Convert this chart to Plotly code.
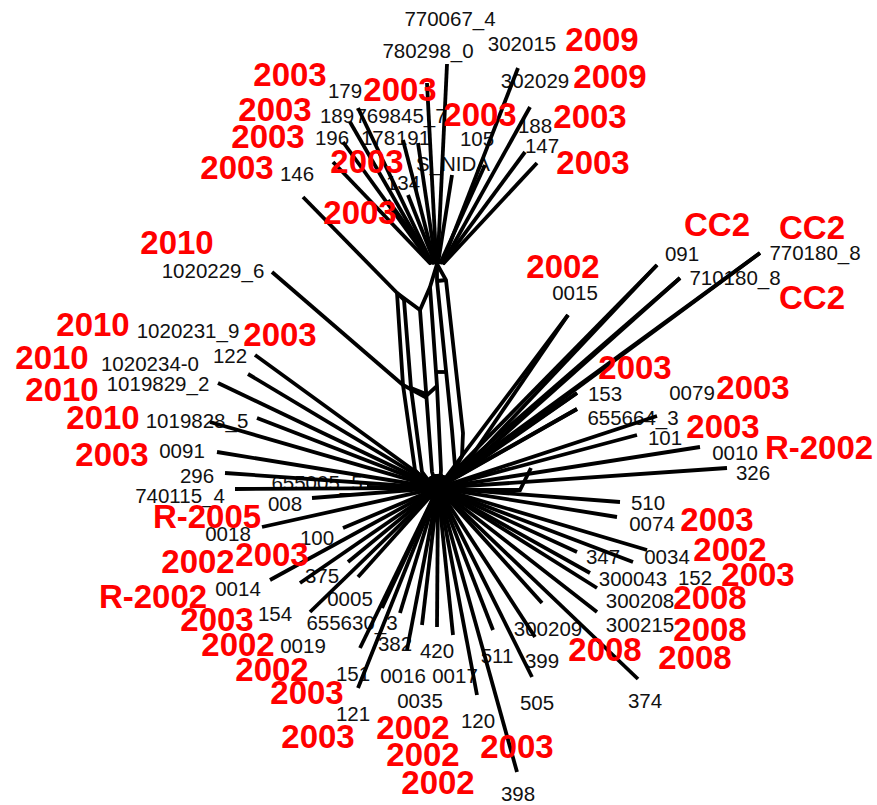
import plotly.graph_objects as go

# ---------------- data ----------------
# black sample labels (centre positions in plot units)
black_labels = ["770067_4","780298_0","302015","302029","179","189","769845_7","196","178","191",
                "105","188","147","S_NIDA","134","146","1020229_6","1020231_9","122","1020234-0",
                "1019829_2","1019828_5","0091","296","655005_5","740115_4","008","0018","100","0014",
                "375","0005","154","655630_3","0019","382","420","151","0016","0017",
                "0035","121","120","398","505","399","511","300209","374","300215",
                "300208","300043","152","347","0034","0074","510","326","0010","101",
                "655664_3","153","0079","0015","091","710180_8","770180_8"]
black_x = [450,428,522,535,345,337,401,332,378,413,
           477,535,542,453,403,297,213,188,230,150,
           158,197,182,197,317,180,285,228,317,238,
           322,350,275,352,303,395,437,353,403,455,
           420,353,478,518,537,542,497,548,645,640,
           640,633,695,603,667,652,648,753,735,665,
           633,605,692,575,682,735,815]
black_y = [18,50,43,80,90,115,115,137,137,137,
           138,125,145,163,182,173,270,330,355,363,
           383,420,450,475,482,495,503,533,537,588,
           575,598,613,622,645,643,650,673,675,675,
           700,713,720,793,702,660,655,628,700,624,
           600,578,577,556,556,523,502,472,452,437,
           417,393,392,292,253,277,252]

# red year / group labels
red_labels = ["2009","2009","2003","2003","2003","2003","2003","2003","2003","2003","2003","2003",
              "2010","2010","2003","2010","2010","2010","2003",
              "R-2005","2002","2003","R-2002","2003","2002","2002","2003","2003",
              "2002","2002","2002","2003",
              "2008","2008","2008","2008","2003","2002","2003",
              "R-2002","2003","2003","2003","2002","CC2","CC2","CC2"]
red_x = [602,610,290,400,275,480,268,590,367,593,237,360,
         177,93,280,52,62,103,112,
         207,198,272,153,217,238,272,307,318,
         413,423,438,517,
         605,695,710,710,758,730,717,
         819,723,753,635,563,717,812,812]
red_y = [40,77,75,90,110,115,137,117,162,163,168,213,
         243,325,335,358,390,418,455,
         517,562,555,597,620,645,670,693,737,
         728,755,783,747,
         650,658,630,598,575,550,520,
         448,427,388,368,267,225,228,298]

# upper cluster: hub and leaf tips
top_hub = (437, 264)
top_tip_x = [447,427,518,530,525,537,350,343,403,418,408,452,485,358,333,388]
top_tip_y = [64,83,68,107,152,163,122,142,140,143,195,175,165,108,162,200]

# lower cluster: hub and leaf tips
bot_hub = (438, 488)
bot_tip_x = [255,248,218,257,210,217,225,235,367,312,262,343,348,358,270,300,310,382,360,358,
             400,407,422,437,453,477,493,517,532,535,542,638,597,597,590,633,577,647,617,620,
             727,700,637,657,577,577,568,657,680,760]
bot_tip_y = [355,374,383,418,422,452,473,489,487,498,527,528,562,577,580,583,612,608,648,688,
             613,650,625,627,635,695,630,772,677,637,603,679,612,588,573,562,552,550,517,502,
             468,447,435,416,409,393,315,265,278,253]

# internal network (reticulate trunk) paths
trunk_paths = [
    [(303,197),(397,293),(404,300)],
    [(437,264),(430,287),(420,310),(397,293)],
    [(397,293),(403,385),(415,470),(430,487)],
    [(404,300),(411,388),(422,472),(434,488)],
    [(420,310),(426,394),(432,472),(437,488)],
    [(430,287),(437,386),(441,470),(440,488)],
    [(437,264),(437,281),(452,430),(455,466),(443,486)],
    [(437,264),(446,280),(463,433),(462,456),(447,484)],
    [(272,272),(403,385)],
    [(403,385),(425,397),(437,386)],
    [(411,388),(426,394)],
    [(437,372),(447,372)],
    [(437,281),(446,280)],
    [(462,490),(520,490),(531,468)],
]
# second roots for the long north-east leaves (double lines)
ne_root = (458, 476)
ne_tip_idx = [46, 47, 48, 49, 45, 44]

# vertical correction for text baseline placement
text_dy = 3

# ---------------- build line coordinates ----------------
lx, ly = [], []

def add_path(pts):
    for px, py in pts:
        lx.append(px)
        ly.append(py)
    lx.append(None)
    ly.append(None)

for tx, ty in zip(top_tip_x, top_tip_y):
    bx = top_hub[0] + 0.06 * (tx - top_hub[0])
    add_path([(bx, top_hub[1]), (tx, ty)])

for tx, ty in zip(bot_tip_x, bot_tip_y):
    dx, dy = tx - bot_hub[0], ty - bot_hub[1]
    d = (dx * dx + dy * dy) ** 0.5
    add_path([(bot_hub[0] - 14 * dx / d, bot_hub[1] - 14 * dy / d), (tx, ty)])

for i in ne_tip_idx:
    add_path([ne_root, (bot_tip_x[i], bot_tip_y[i])])

for p in trunk_paths:
    add_path(p)

assert len(black_labels) == len(black_x) == len(black_y)
assert len(red_labels) == len(red_x) == len(red_y)

fig = go.Figure()

fig.add_trace(go.Scatter(
    x=black_x, y=[v + text_dy for v in black_y], text=black_labels, mode="text",
    textposition="middle center", cliponaxis=False,
    textfont=dict(family="Liberation Sans, Arial, sans-serif", size=20.5, color="#111111"),
    hoverinfo="skip", showlegend=False))

fig.add_trace(go.Scatter(
    x=lx, y=ly, mode="lines",
    line=dict(color="black", width=3.8),
    hoverinfo="skip", showlegend=False))

fig.add_trace(go.Scatter(
    x=red_x, y=[v + text_dy for v in red_y], text=red_labels, mode="text",
    textposition="middle center", cliponaxis=False,
    textfont=dict(family="Liberation Sans, Arial, sans-serif", size=33, color="#ff0000",
                  weight="bold"),
    hoverinfo="skip", showlegend=False))

fig.update_xaxes(visible=False, range=[0, 877], fixedrange=True)
fig.update_yaxes(visible=False, range=[805, 0], fixedrange=True)
fig.update_layout(width=877, height=805, margin=dict(l=0, r=0, t=0, b=0),
                  paper_bgcolor="white", plot_bgcolor="white", showlegend=False)

fig.write_html("out.html", config={"displayModeBar": False},
               post_script="document.body.style.margin='0';document.body.style.overflow='hidden';")
